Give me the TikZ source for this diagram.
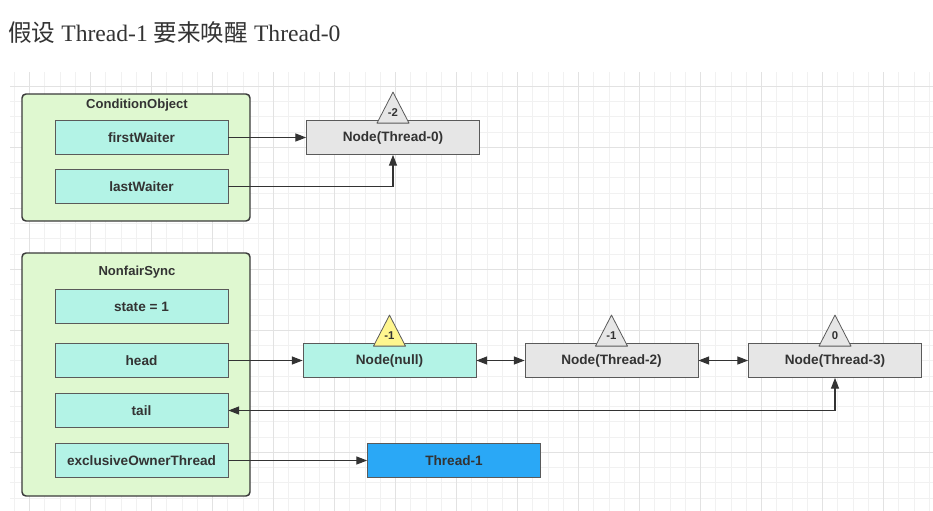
\documentclass[tikz,border=0pt]{standalone}
\usepackage{fontspec}
\setmainfont{Liberation Serif}
\setsansfont{Liberation Sans}
\newfontfamily\cjkfont{Noto Sans CJK SC}
\usetikzlibrary{arrows.meta, positioning, calc}
\definecolor{ink}{HTML}{333333}
\definecolor{edge}{HTML}{5A5A5A}
\definecolor{frame}{HTML}{3A3A3A}
\definecolor{grpfill}{HTML}{DFF8D0}
\definecolor{mint}{HTML}{B3F3E6}
\definecolor{nodegray}{HTML}{E6E6E6}
\definecolor{tipyellow}{HTML}{FFF68F}
\definecolor{thrblue}{HTML}{2AA8F6}
\definecolor{gridminor}{HTML}{F1F1F1}
\definecolor{gridmajor}{HTML}{E2E2E2}
\tikzset{
  font=\sffamily\bfseries\fontsize{10.2pt}{12pt}\selectfont,
  >={Triangle[length=8pt, width=6pt]},
  %
  grp/.style={draw=frame, line width=1.1pt, fill=grpfill, rounded corners=3pt,
              minimum width=171pt, inner sep=0pt},
  grptitle/.style={text=ink, inner sep=1pt,
                   font=\sffamily\bfseries\fontsize{9.8pt}{12pt}\selectfont},
  %
  field/.style={draw=edge, line width=0.6pt, fill=mint, text=ink,
                minimum width=129.75pt, minimum height=25.5pt, inner sep=2pt},
  qnode/.style={field, fill=nodegray},
  thr/.style={field, fill=thrblue},
  %
  wait/.style={draw=edge, line width=0.6pt, fill=nodegray, line join=round},
  waithd/.style={wait, fill=tipyellow},
  wlbl/.style={text=ink, inner sep=0pt,
               font=\sffamily\bfseries\fontsize{8.5pt}{10pt}\selectfont},
  %
  link/.style={draw=ink, line width=0.8pt, ->},
  gmin/.style={draw=gridminor, line width=0.6pt},
  gmaj/.style={draw=gridmajor, line width=0.6pt},
}

\begin{document}
\begin{tikzpicture}[x=0.75pt, y=-0.75pt]

\useasboundingbox (0,0) rectangle (933,511);
\fill[white] (0,0) rectangle (933,511);

% =========================================================================
% background grid
% =========================================================================
\begin{scope}
  \clip (10,72) rectangle (933,511);
  \foreach \i in {0,...,60} \draw[gmin] ({14.25+15.25*\i},72) -- ({14.25+15.25*\i},511);
  \foreach \i in {0,...,29} \draw[gmin] (10,{71+15.25*\i}) -- (933,{71+15.25*\i});
  \foreach \i in {0,...,14} \draw[gmaj] ({29.5+61*\i},72) -- ({29.5+61*\i},511);
  \foreach \i in {0,...,7}  \draw[gmaj] (10,{86.25+61*\i}) -- (933,{86.25+61*\i});
\end{scope}

\node[anchor=base west, text=ink, inner sep=0pt,
      font=\fontsize{17.7pt}{20pt}\selectfont] (title) at (8,41)
  {\cjkfont 假设\rmfamily{} Thread-1 \cjkfont 要来唤醒\rmfamily{} Thread-0};

% =========================================================================
% TOP: ConditionObject and its waiting node
% =========================================================================
\node[grp, minimum height=95.25pt] (co) at (136,157.5) {};
\node[grptitle] (cot) at (137,105) {ConditionObject};
\node[field] (fw) at (141.5,137.5) {firstWaiter};
\node[field] (lw) at (141.5,186.5) {lastWaiter};

\node[qnode] (n0) at (393,137.5) {Node(Thread-0)};
\draw[wait] ([shift={(-16,3)}]n0.north) -- ([shift={(0,-28)}]n0.north)
  -- ([shift={(16,3)}]n0.north) -- cycle;
\node[wlbl] (w0) at ([shift={(0,-8)}]n0.north) {-2};

\draw[link] (fw.east) -- (n0.west);
\draw[link] (lw.east) -| (n0.south);

% =========================================================================
% BOTTOM: NonfairSync and the wait queue
% =========================================================================
\node[grp, minimum height=182.25pt] (ns) at (136,374.5) {};
\node[grptitle] (nst) at (137,272) {NonfairSync};
\node[field] (st) at (141.5,306.5) {state = 1};
\node[field] (hd) at (141.5,360.5) {head};
\node[field] (tl) at (141.5,410.5) {tail};
\node[field] (eo) at (141.5,460.5) {exclusiveOwnerThread};

\node[field] (nn) at (389.5,360.5) {Node(null)};
\node[qnode] (n2) at (611.5,360.5) {Node(Thread-2)};
\node[qnode] (n3) at (835,360.5) {Node(Thread-3)};

\draw[waithd] ([shift={(-16,3)}]nn.north) -- ([shift={(0,-28)}]nn.north)
  -- ([shift={(16,3)}]nn.north) -- cycle;
\node[wlbl] (wn) at ([shift={(0,-8)}]nn.north) {-1};
\draw[wait] ([shift={(-16,3)}]n2.north) -- ([shift={(0,-28)}]n2.north)
  -- ([shift={(16,3)}]n2.north) -- cycle;
\node[wlbl] (w2) at ([shift={(0,-8)}]n2.north) {-1};
\draw[wait] ([shift={(-16,3)}]n3.north) -- ([shift={(0,-28)}]n3.north)
  -- ([shift={(16,3)}]n3.north) -- cycle;
\node[wlbl] (w3) at ([shift={(0,-8)}]n3.north) {0};

\node[thr] (t1) at (454,460.5) {Thread-1};

\draw[link] (hd.east) -- (nn.west);
\draw[link, <->] (nn.east) -- (n2.west);
\draw[link, <->] (n2.east) -- (n3.west);
\draw[link, <->] (tl.east) -| (n3.south);
\draw[link] (eo.east) -- (t1.west);

\end{tikzpicture}
\end{document}
